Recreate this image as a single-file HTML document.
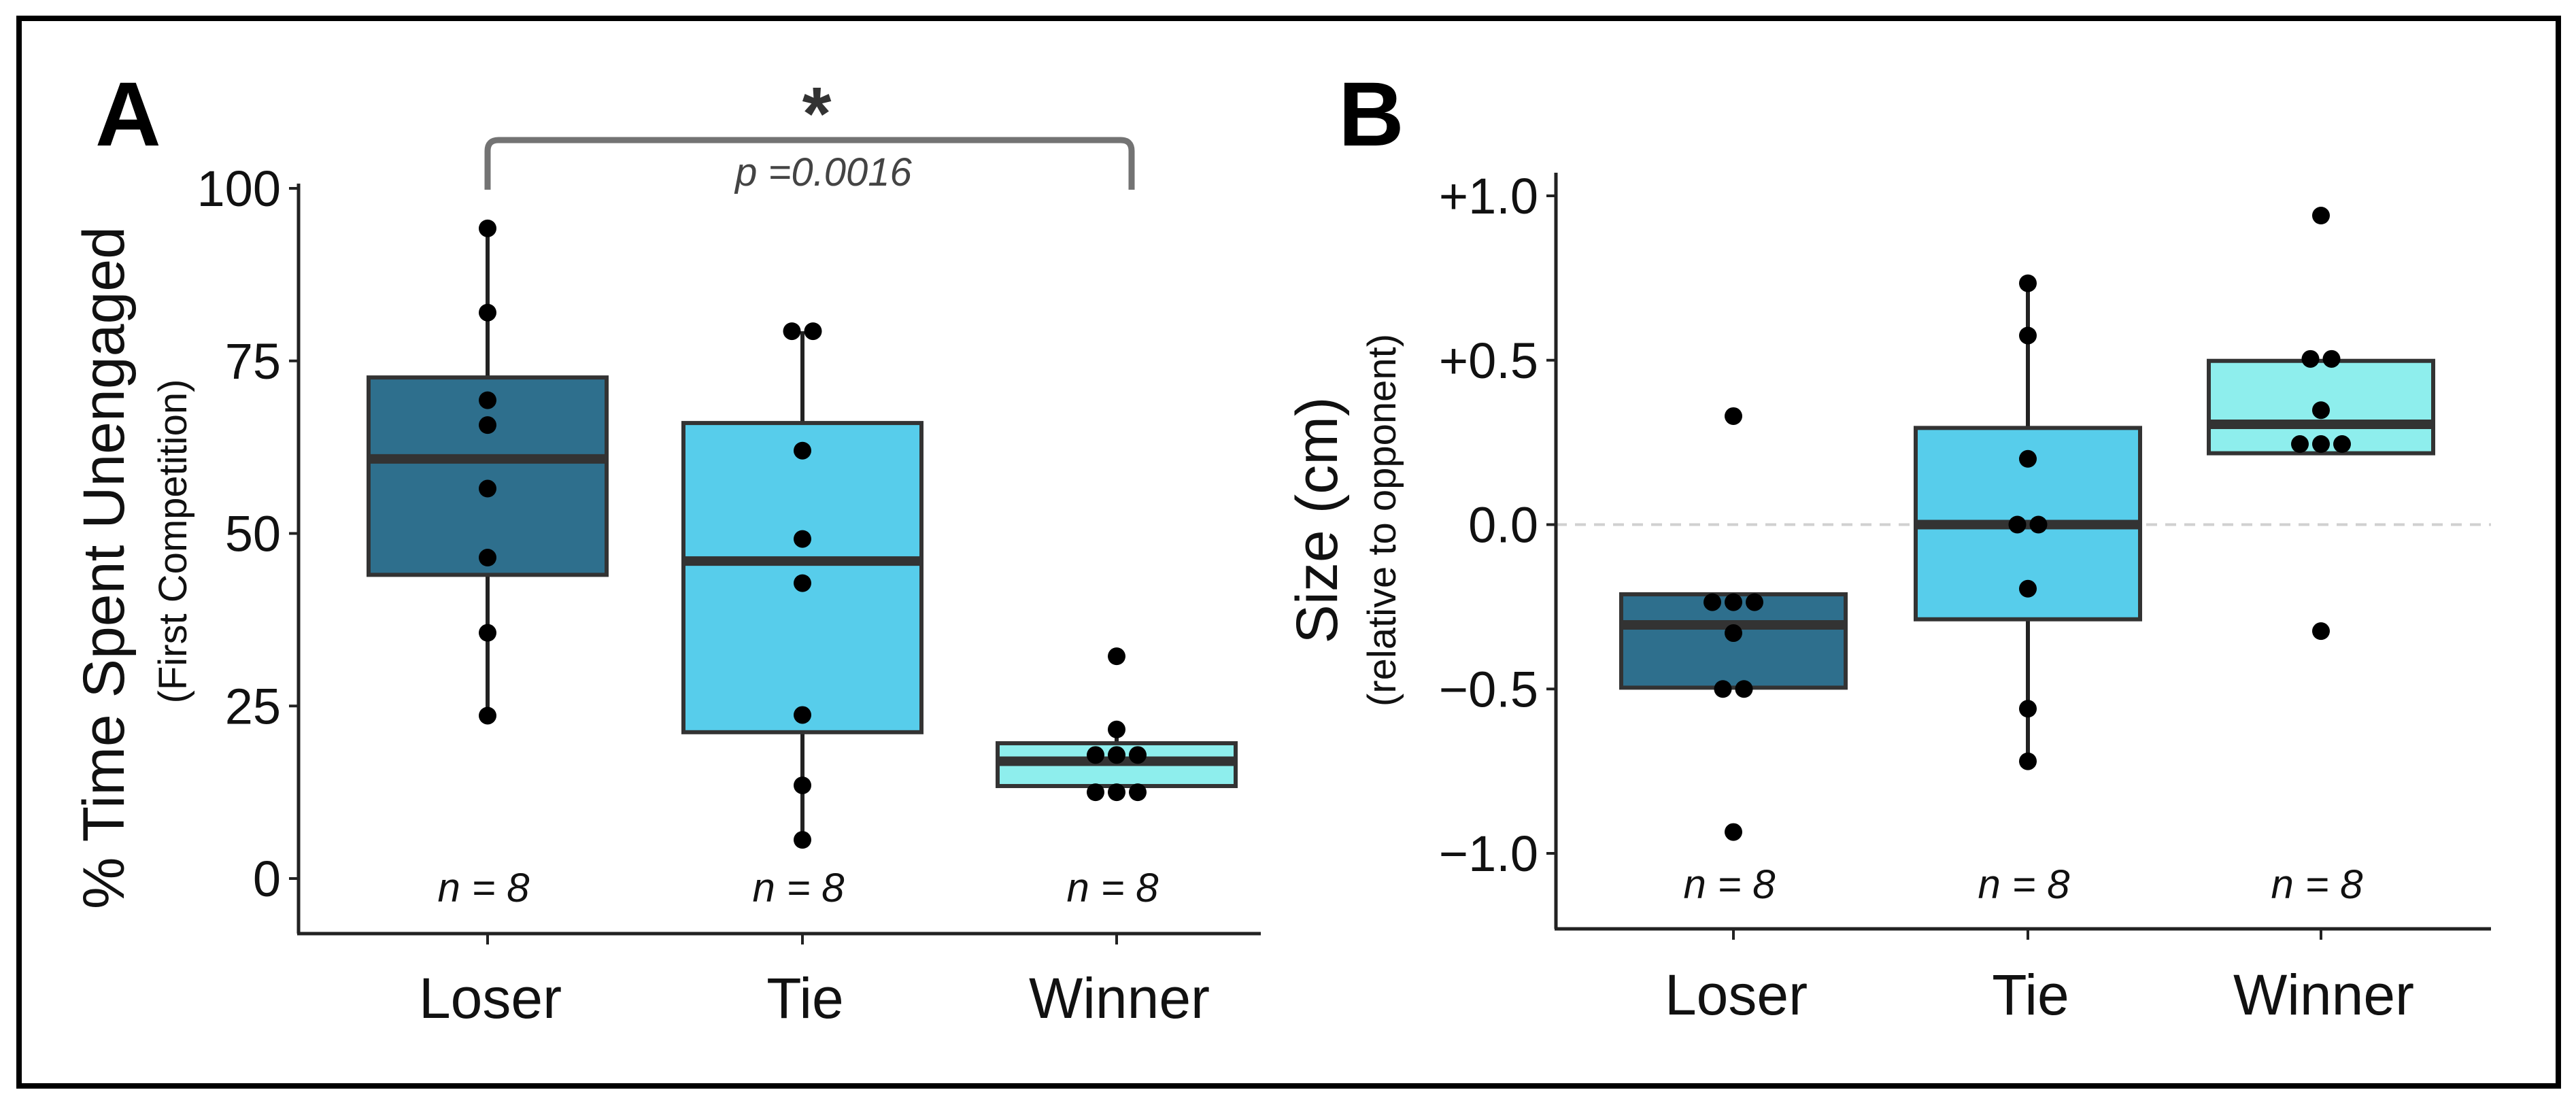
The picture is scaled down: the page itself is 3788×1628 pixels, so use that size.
<!DOCTYPE html>
<html><head><meta charset="utf-8">
<style>
html,body{margin:0;padding:0;background:#fff;}
svg{display:block;font-family:"Liberation Sans",Arial,sans-serif;}
</style></head>
<body>
<svg id="fig" width="3788" height="1628" viewBox="0 0 3788 1628" xmlns="http://www.w3.org/2000/svg">
  <rect x="28" y="27" width="3734" height="1570" fill="#fff" stroke="#000" stroke-width="8"/>
  <text x="140" y="214" font-size="134" font-weight="bold">A</text>
  <text x="1968" y="214" font-size="134" font-weight="bold">B</text>
  <g id="pa"></g>
  <g id="pb"></g>
</svg>
<script>
const categories = ["Loser", "Tie", "Winner"];
const nLabels = ["n = 8", "n = 8", "n = 8"];
const fills = ["#2e6f8d", "#57cdeb", "#8eeeed"];

// Panel A: % time spent unengaged
const aTicks = [0, 25, 50, 75, 100];
const aTickLabels = ["0", "25", "50", "75", "100"];
const aQ1 = [44, 21.2, 13.4];
const aMed = [60.8, 46, 17];
const aQ3 = [72.6, 66, 19.6];
const aWhLo = [23.6, 5.6, 12.5];
const aWhHi = [94.2, 79.3, 21.6];
const aPointsLoser = [94.2, 82, 69.3, 65.7, 56.5, 46.5, 35.6, 23.6];
const aPointsTie = [79.3, 79.3, 62, 49.2, 42.8, 23.7, 13.5, 5.6];
const aPointsWinner = [32.2, 21.6, 17.9, 17.9, 17.9, 12.5, 12.5, 12.5];

// Panel B: size relative to opponent
const bTicks = [-1, -0.5, 0, 0.5, 1];
const bTickLabels = ["\u22121.0", "\u22120.5", "0.0", "+0.5", "+1.0"];
const bQ1 = [-0.496, -0.288, 0.217];
const bMed = [-0.305, 0.0, 0.305];
const bQ3 = [-0.212, 0.294, 0.498];
const bWhLo = [-0.496, -0.72, 0.217];
const bWhHi = [-0.212, 0.734, 0.498];
const bPointsLoser = [0.33, -0.236, -0.236, -0.236, -0.33, -0.5, -0.5, -0.935];
const bPointsTie = [0.734, 0.575, 0.2, 0, 0, -0.195, -0.56, -0.72];
const bPointsWinner = [0.94, 0.504, 0.504, 0.348, 0.245, 0.245, 0.245, -0.324];

const NS = "http://www.w3.org/2000/svg";
function mk(parent, tag, attrs, text) {
  const e = document.createElementNS(NS, tag);
  for (const k in attrs) e.setAttribute(k, attrs[k]);
  if (text !== undefined) e.textContent = text;
  parent.appendChild(e);
  return e;
}

function drawPanel(g, cfg) {
  const yS = v => cfg.y0 + (v - cfg.v0) * (cfg.y1 - cfg.y0) / (cfg.v1 - cfg.v0);
  const xS = i => cfg.cx[i];
  const ax = cfg.axX;
  if (cfg.zeroLine) {
    const zl = mk(g, "line", {x1: ax, x2: cfg.axEnd, y1: yS(0), y2: yS(0), stroke: "#d0d0d0", "stroke-width": 4, "stroke-dasharray": "16 12"});
    
    
  }
  const ya = mk(g, "line", {x1: ax, x2: ax, y1: cfg.axTop, y2: cfg.axBottom, stroke: "#222", "stroke-width": 5});
  
  
  const xa = mk(g, "line", {x1: ax - 2, x2: cfg.axEnd, y1: cfg.axBottom, y2: cfg.axBottom, stroke: "#222", "stroke-width": 5});
  
  
  cfg.ticks.forEach((t, i) => {
    const y = yS(t);
    const tk = mk(g, "line", {x1: ax - 14, x2: ax, y1: y, y2: y, stroke: "#222", "stroke-width": 4});
    
    
    const tl = mk(g, "text", {x: ax - 26, y: y + 26, "font-size": 74, "text-anchor": "end", fill: "#111"}, cfg.tickLabels[i]);
    
    
  });
  categories.forEach((c, i) => {
    const x = xS(i);
    const tk = mk(g, "line", {x1: x, x2: x, y1: cfg.axBottom, y2: cfg.axBottom + 16, stroke: "#222", "stroke-width": 4});
    
    
    const tl = mk(g, "text", {x: x + 4, y: cfg.catY, "font-size": 84, "text-anchor": "middle", fill: "#111"}, c);
    
    
    const wh = mk(g, "line", {x1: x, x2: x, y1: yS(cfg.whLo[i]), y2: yS(cfg.whHi[i]), stroke: "#222", "stroke-width": 6});
    
    
    const hw = cfg.halfW;
    const bx = mk(g, "rect", {x: x - hw, y: yS(cfg.q3[i]), width: 2 * hw, height: yS(cfg.q1[i]) - yS(cfg.q3[i]), fill: fills[i], stroke: "#333", "stroke-width": 6});
    
    
    const md = mk(g, "line", {x1: x - hw, x2: x + hw, y1: yS(cfg.med[i]), y2: yS(cfg.med[i]), stroke: "#333", "stroke-width": 14});
    
    
    const pts = cfg.points[i];
    const counts = {};
    pts.forEach(v => { counts[v] = (counts[v] || 0) + 1; });
    const seen = {};
    pts.forEach(v => {
      const n = counts[v];
      const k = seen[v] || 0;
      seen[v] = k + 1;
      const off = (k - (n - 1) / 2) * 31;
      const p = mk(g, "circle", {cx: x + off, cy: yS(v), r: 13, fill: "#000"});
      
      
    });
    const nl = mk(g, "text", {x: x - 6, y: cfg.nY, "font-size": 60, "font-style": "italic", "text-anchor": "middle", fill: "#111"}, nLabels[i]);
    
    
  });
  const t1 = mk(g, "text", {x: 0, y: 0, "font-size": 86, "text-anchor": "middle", fill: "#111", transform: `translate(${cfg.titleX},${cfg.titleY}) rotate(-90)`}, cfg.title);
  
  
  const t2 = mk(g, "text", {x: 0, y: 0, "font-size": 58, "text-anchor": "middle", fill: "#111", transform: `translate(${cfg.subX},${cfg.subY}) rotate(-90)`}, cfg.sub);
  
  
}

drawPanel(document.getElementById("pa"), {
  v0: 0, v1: 100, y0: 1292, y1: 277, axX: 439, axTop: 270, axBottom: 1373, axEnd: 1854,
  cx: [717, 1180, 1642], halfW: 175, ticks: aTicks, tickLabels: aTickLabels,
  q1: aQ1, med: aMed, q3: aQ3, whLo: aWhLo, whHi: aWhHi,
  points: [aPointsLoser, aPointsTie, aPointsWinner],
  catY: 1497, nY: 1326, zeroLine: false,
  title: "% Time Spent Unengaged", titleX: 182, titleY: 835,
  sub: "(First Competition)", subX: 274, subY: 796
});
drawPanel(document.getElementById("pb"), {
  v0: 0, v1: 1, y0: 771.5, y1: 288, axX: 2288, axTop: 254, axBottom: 1366, axEnd: 3663,
  cx: [2549, 2982, 3413], halfW: 165, ticks: bTicks, tickLabels: bTickLabels,
  q1: bQ1, med: bMed, q3: bQ3, whLo: bWhLo, whHi: bWhHi,
  points: [bPointsLoser, bPointsTie, bPointsWinner],
  catY: 1492, nY: 1321, zeroLine: true,
  title: "Size (cm)", titleX: 1966, titleY: 765,
  sub: "(relative to opponent)", subX: 2052, subY: 765
});

const svg = document.getElementById("pa");
const br = mk(svg, "path", {d: "M717,279 L717,222 Q717,206 733,206 L1648,206 Q1664,206 1664,222 L1664,279", fill: "none", stroke: "#737373", "stroke-width": 9});


const st = mk(svg, "text", {x: 1201, y: 205, "font-size": 110, "font-weight": "bold", "text-anchor": "middle", fill: "#333"}, "*");


const pv = mk(svg, "text", {x: 1211, y: 273, "font-size": 58, "font-style": "italic", "text-anchor": "middle", fill: "#444"}, "p =0.0016");


</script>
</body></html>
